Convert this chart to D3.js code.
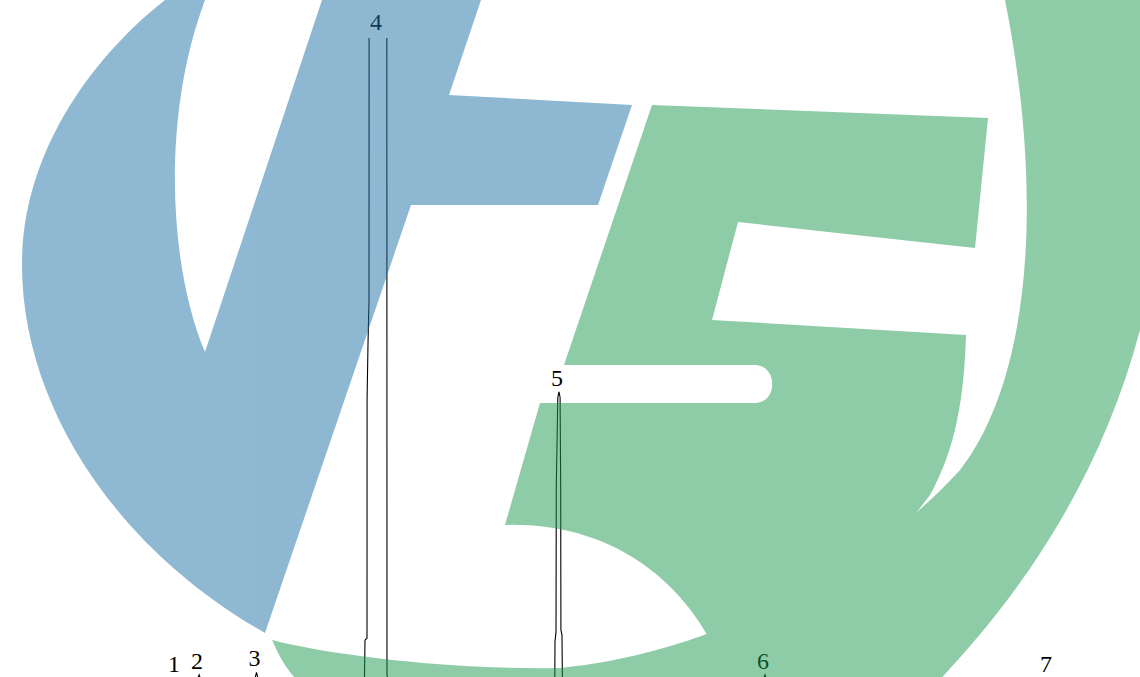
<!DOCTYPE html>
<html>
<head>
<meta charset="utf-8">
<script src="https://cdn.jsdelivr.net/npm/d3@7"></script>
<style>
    html, body {margin: 0; padding: 0; background: #ffffff;}
    svg {display: block;}
</style>
</head>
<body>
<div id="chart"></div>
<script>
// Peak table (retention time in min, apex height in mAU)
var peakNames   = ["1", "2", "3", "4", "5", "6", "7"];
var peakTimes   = [4.63, 5.24, 6.75, 9.95, 14.71, 20.13, 27.58];
var peakHeights = [3, 8, 12, 1450, 449, 8, 3];

// Detector trace
var traceTime = [
    0, 4.58, 4.63, 4.68,
    5.19, 5.24, 5.29,
    6.70, 6.75, 6.80,
    9.50, 9.592, 9.605, 9.658, 9.66, 9.684, 9.711, 9.712, 9.75, 9.95, 10.15, 10.18, 10.184, 10.21,
    14.55, 14.60, 14.605, 14.632, 14.639, 14.679, 14.711, 14.739, 14.755, 14.761, 14.789, 14.80, 14.85,
    20.08, 20.13, 20.18,
    27.53, 27.58, 27.63,
    30
];
var traceSignal = [
    0, 0, 3, 0,
    0, 8, 0,
    0, 12, 0,
    0, 4, 62, 65, 436, 523, 592, 1000, 1300, 1450, 1300, 1050, 8, 0,
    0, 3, 60, 75, 300, 440, 449, 440, 300, 78, 70, 3, 0,
    0, 8, 0,
    0, 3, 0,
    0
];

var width = 1140,
    height = 677;

var svg = d3.select("#chart").append("svg")
    .attr("width", width)
    .attr("height", height);

// Scales: the baseline sits just under the picture, the top is clipped
var x_scale = d3.scaleLinear()
    .domain([0, 30])
    .range([0, width]);

var y_scale = d3.scaleLinear()
    .domain([0, 1000])
    .range([680, 38]);

svg.append("clipPath")
    .attr("id", "plot-clip")
  .append("rect")
    .attr("x", 0)
    .attr("y", y_scale(1000))
    .attr("width", width)
    .attr("height", height - y_scale(1000) + 10);

var trace = traceTime.map(function(t, i) {return {t: t, v: traceSignal[i]};});

var line = d3.line()
    .x(function(d) {return x_scale(d.t);})
    .y(function(d) {return y_scale(d.v);});

svg.append("path")
    .attr("clip-path", "url(#plot-clip)")
    .attr("d", line(trace))
    .attr("fill", "none")
    .attr("stroke", "#000000")
    .attr("stroke-width", 1.1);

// Peak numbers above the apex, kept inside the top of the plot
svg.selectAll("text.peak")
    .data(peakNames)
    .enter().append("text")
    .attr("class", "peak")
    .attr("x", function(d, i) {return x_scale(peakTimes[i]) - 2;})
    .attr("y", function(d, i) {return Math.max(y_scale(peakHeights[i]) - 6, y_scale(1000) - 8);})
    .attr("text-anchor", "middle")
    .style("font-family", "'Liberation Serif', 'DejaVu Serif', serif")
    .style("font-size", "24px")
    .style("fill", "#000000")
    .text(function(d) {return d;});

// Watermark logo laid over the chart (whole group at half opacity)
var logo = svg.append("g")
    .attr("opacity", 0.5);

// blue V and t
logo.append("path")
    .attr("fill", "rgb(31,115,167)")
    .attr("d", "M165,0 C95,55 22,150 22,265 C22,400 110,545 265,633 " +
               "L411,205 L598,205 L632,105 L449,95 L481,0 L322,0 L205,352 " +
               "C170,270 160,120 205,0 Z");

// green ring (right and bottom)
logo.append("path")
    .attr("fill", "rgb(29,155,81)")
    .attr("d", "M1005,0 L1140,0 L1140,330 C1100,480 1020,600 920,700 L330,700 " +
               "C300,690 285,670 272,640 C330,655 450,670 560,668 " +
               "C700,655 860,580 960,470 C1030,380 1045,200 1005,0 Z");

// green S, its foot runs into the ring
logo.append("path")
    .attr("fill", "rgb(29,155,81)")
    .attr("d", "M652,105 L988,118 L975,248 L738,222 L712,320 L966,335 " +
               "C964,400 955,450 930,495 L880,560 L720,660 " +
               "C680,570 600,522 505,525 " +
               "L540,403 L755,403 C778,403 778,365 755,365 L564,365 Z");
</script>
</body>
</html>
